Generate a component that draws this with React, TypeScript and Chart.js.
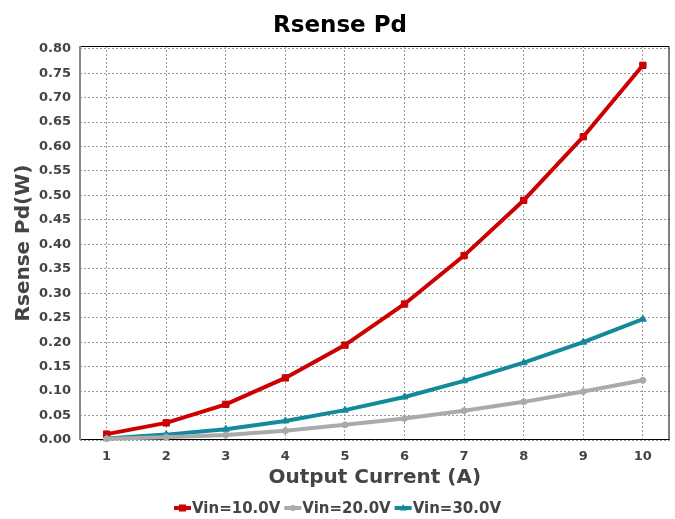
import React, { useEffect, useRef } from "react";
import { Chart, registerables } from "chart.js";

Chart.register(...registerables);

const currents = [1, 2, 3, 4, 5, 6, 7, 8, 9, 10];
const vin10 = [0.012, 0.035, 0.073, 0.127, 0.194, 0.278, 0.377, 0.490, 0.620, 0.766];
const vin20 = [0.0027, 0.0055, 0.010, 0.019, 0.031, 0.044, 0.060, 0.078, 0.099, 0.122];
const vin30 = [0.003, 0.011, 0.022, 0.039, 0.061, 0.088, 0.121, 0.158, 0.200, 0.247];
const seriesLabels = ["Vin=10.0V", "Vin=20.0V", "Vin=30.0V"];
const seriesColors = ["#cc0000", "#aaaaaa", "#138a9b"];
const seriesMarkers = ["rect", "circle", "triangle"];
const chartTitle = "Rsense Pd";

const FONT = '"DejaVu Sans", sans-serif';

const toPoints = (ys: number[]) => currents.map((x, i) => ({ x, y: ys[i] }));

const framePlugin = {
  id: "frame",
  beforeDatasetsDraw(chart: any) {
    const { ctx, chartArea: a } = chart;
    ctx.save();
    ctx.strokeStyle = "#000";
    ctx.lineWidth = 1;
    ctx.beginPath();
    ctx.moveTo(a.left, a.top + 0.5);
    ctx.lineTo(a.right - 0.5, a.top + 0.5);
    ctx.lineTo(a.right - 0.5, a.bottom);
    ctx.stroke();
    ctx.beginPath();
    ctx.moveTo(a.left, a.bottom - 0.5);
    ctx.lineTo(a.right, a.bottom - 0.5);
    ctx.stroke();
    ctx.strokeStyle = "#888";
    ctx.lineWidth = 2;
    ctx.beginPath();
    ctx.moveTo(a.left, a.top);
    ctx.lineTo(a.left, a.bottom);
    ctx.stroke();
    ctx.restore();
  },
};

function drawMarker(ctx: CanvasRenderingContext2D, style: string, x: number, y: number, color: string) {
  ctx.fillStyle = color;
  if (style === "rect") {
    ctx.fillRect(x - 3.5, y - 3.5, 7, 7);
  } else if (style === "circle") {
    ctx.beginPath();
    ctx.arc(x, y, 3, 0, Math.PI * 2);
    ctx.fill();
  } else {
    ctx.beginPath();
    ctx.moveTo(x, y - 4);
    ctx.lineTo(x + 3.5, y + 2.5);
    ctx.lineTo(x - 3.5, y + 2.5);
    ctx.closePath();
    ctx.fill();
  }
}

const legendPlugin = {
  id: "customLegend",
  afterDraw(chart: any) {
    const { ctx, width } = chart;
    ctx.save();
    // title
    ctx.font = `bold 23px ${FONT}`;
    ctx.textAlign = "center";
    ctx.textBaseline = "middle";
    ctx.fillStyle = "#000";
    ctx.fillText(chartTitle, 340, 26);
    // legend
    ctx.font = `bold 15px ${FONT}`;
    ctx.textBaseline = "middle";
    ctx.textAlign = "left";
    const markerW = 17;
    const gapAfterMarker = 1;
    const gapBetween = 4;
    const widths = seriesLabels.map((t) => ctx.measureText(t).width);
    let total = 0;
    widths.forEach((w, i) => {
      total += markerW + gapAfterMarker + w + (i < widths.length - 1 ? gapBetween : 0);
    });
    let x = width / 2 - total / 2;
    const y = 508;
    seriesLabels.forEach((label, i) => {
      ctx.strokeStyle = seriesColors[i];
      ctx.lineWidth = 4;
      ctx.beginPath();
      ctx.moveTo(x, y);
      ctx.lineTo(x + markerW, y);
      ctx.stroke();
      drawMarker(ctx, seriesMarkers[i], x + markerW / 2, y, seriesColors[i]);
      ctx.fillStyle = "#444";
      ctx.fillText(label, x + markerW + gapAfterMarker, y + 1);
      x += markerW + gapAfterMarker + widths[i] + gapBetween;
    });
    ctx.restore();
  },
};

export default function App() {
  const ref = useRef<HTMLCanvasElement>(null);
  useEffect(() => {
    document.body.style.margin = "0";
    const datasets = [vin10, vin20, vin30].map((d, i) => ({
      label: seriesLabels[i],
      data: toPoints(d),
      borderColor: seriesColors[i],
      backgroundColor: seriesColors[i],
      borderWidth: 4,
      pointStyle: seriesMarkers[i] as any,
      pointRadius: i === 0 ? 4.5 : i === 1 ? 3 : 4,
      pointBorderWidth: 1,
      pointBorderColor: seriesColors[i],
      pointBackgroundColor: seriesColors[i],
      tension: 0,
      clip: false as any,
    }));
    const chart = new Chart(ref.current!, {
      type: "line",
      data: { datasets: [datasets[1], datasets[2], datasets[0]] as any },
      options: {
        animation: false,
        responsive: false,
        devicePixelRatio: 1,
        layout: { padding: { left: 0, right: 5, top: 0, bottom: 0 } },
        plugins: {
          legend: { display: false },
          tooltip: { enabled: false },
          title: {
            display: true,
            text: chartTitle,
            color: "rgba(0,0,0,0)",
            font: { family: FONT, size: 23, weight: "bold" },
            padding: { top: 12, bottom: 6.4 },
          },
        },
        scales: {
          x: {
            type: "linear",
            min: 0.553,
            max: 10.447,
            afterFit: (s: any) => {
              s.height = 79;
            },
            ticks: {
              stepSize: 1,
              includeBounds: false,
              color: "#444",
              padding: 9,
              font: { family: FONT, size: 13, weight: "bold" },
            },
            grid: { color: "#999", drawTicks: false, lineWidth: 1 },
            border: { display: false, dash: [2, 2] },
            title: {
              display: true,
              text: "Output Current (A)",
              color: "#444",
              font: { family: FONT, size: 20, weight: "bold" },
              padding: { top: 0, bottom: 29 },
            },
          },
          y: {
            min: 0,
            max: 0.8055,
            afterFit: (s: any) => {
              s.width = 80;
            },
            ticks: {
              stepSize: 0.05,
              includeBounds: false,
              color: "#444",
              padding: 9,
              font: { family: FONT, size: 13, weight: "bold" },
              callback: (v: any) => Number(v).toFixed(2),
            },
            grid: { color: "#999", drawTicks: false, lineWidth: 1 },
            border: { display: false, dash: [2, 2] },
            title: {
              display: true,
              text: "Rsense Pd(W)",
              color: "#444",
              font: { family: FONT, size: 20, weight: "bold" },
              padding: { top: 12, bottom: 0 },
            },
          },
        },
      },
      plugins: [framePlugin, legendPlugin],
    });
    return () => chart.destroy();
  }, []);
  return (
    <div style={{ width: 675, height: 519 }}>
      <canvas ref={ref} width={675} height={519} />
    </div>
  );
}
